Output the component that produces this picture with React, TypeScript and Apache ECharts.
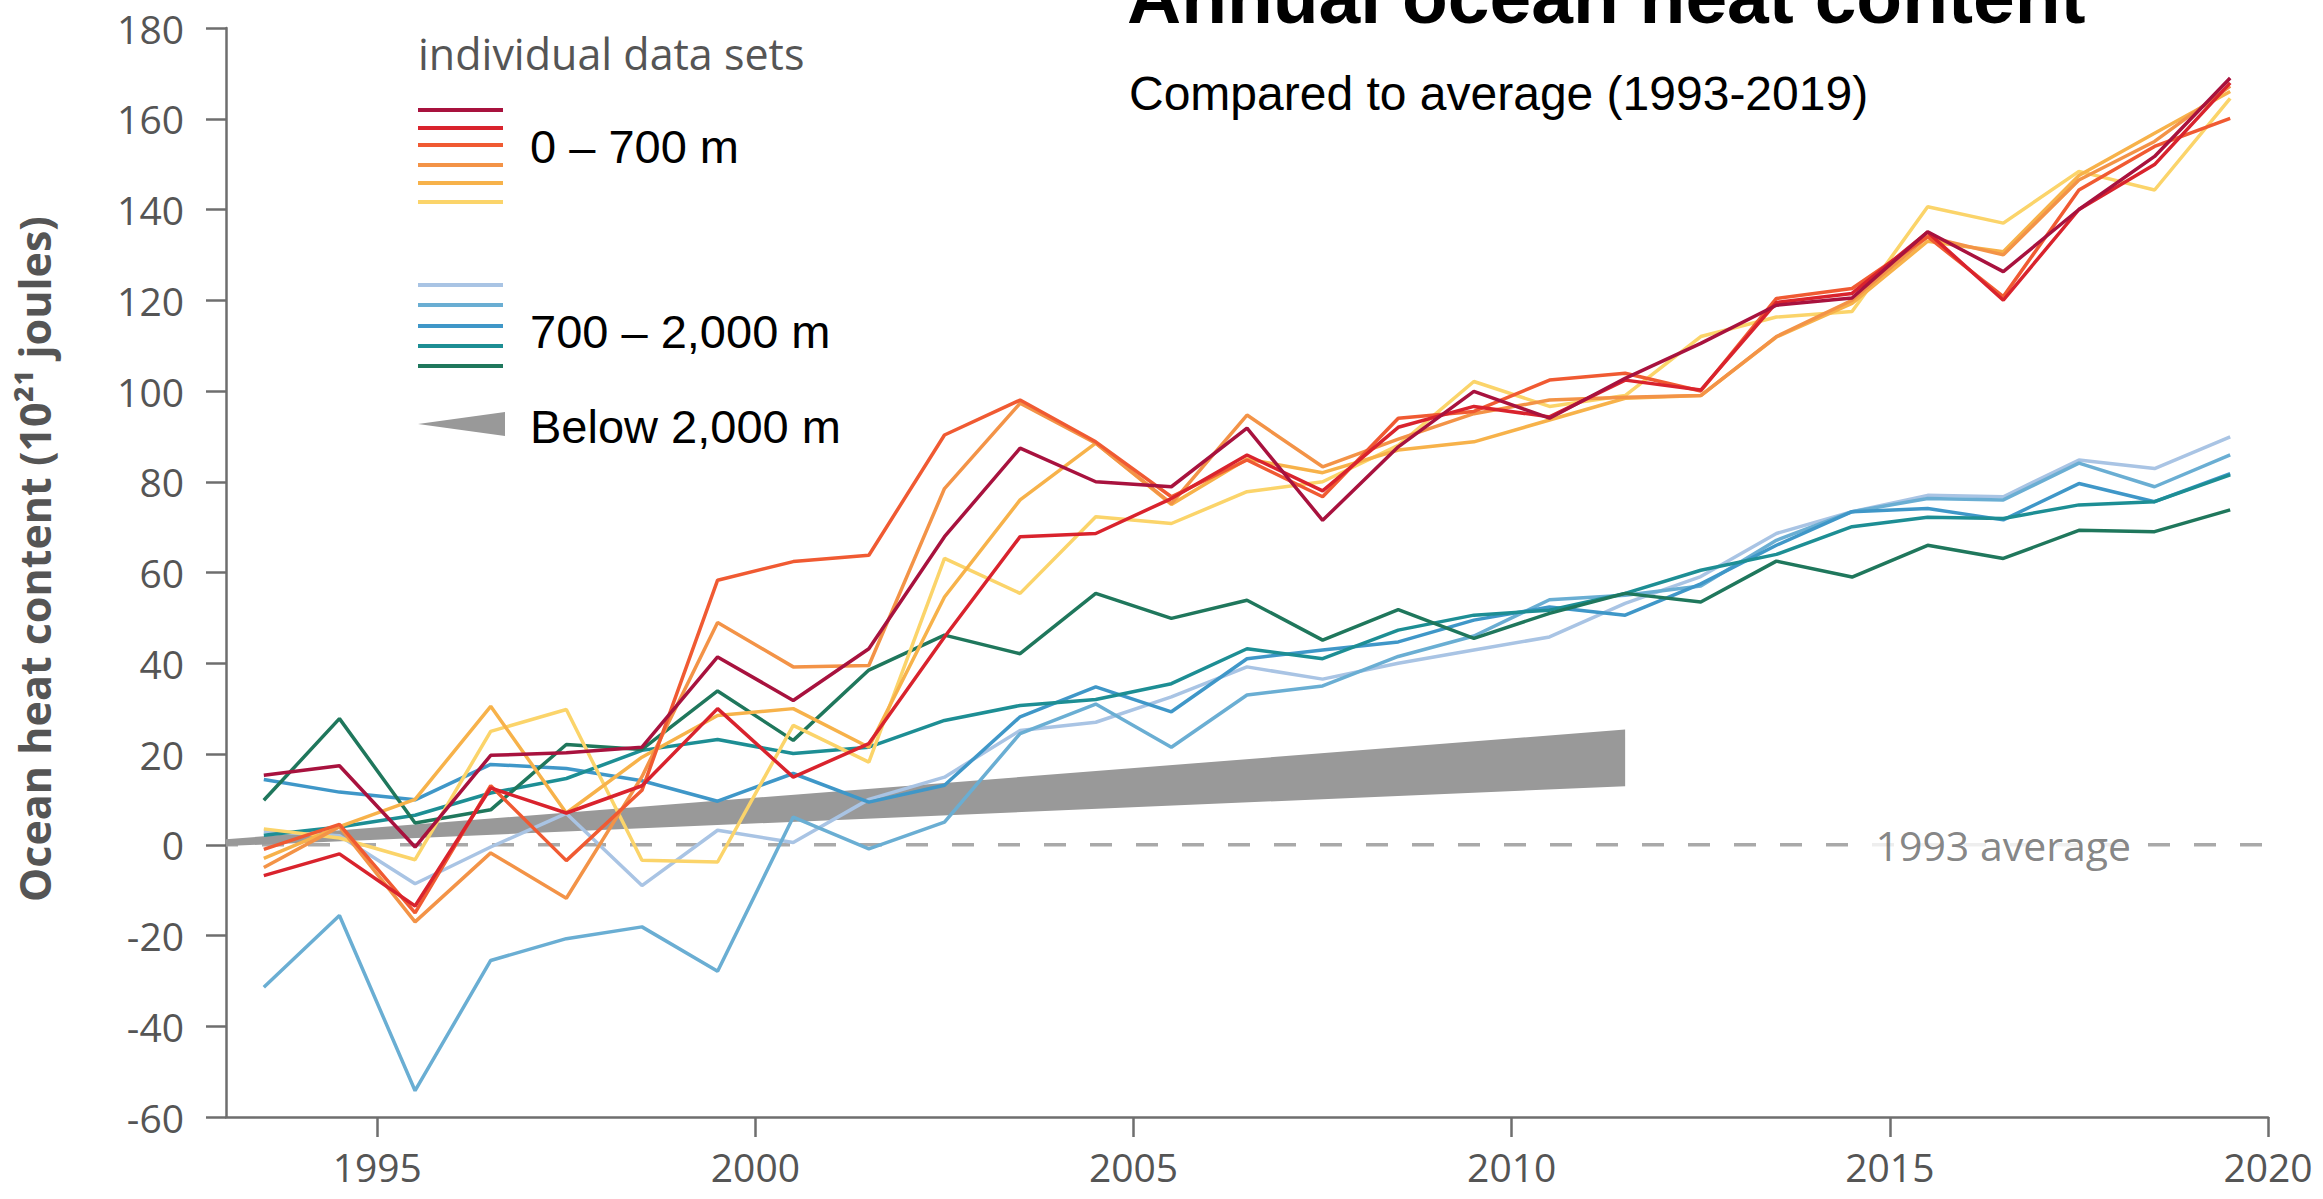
import { useEffect, useRef } from "react";
import * as echarts from "echarts";

// Years of the annual estimates (plotted at mid-year)
const years = [
  1993, 1994, 1995, 1996, 1997, 1998, 1999, 2000, 2001, 2002, 2003, 2004, 2005, 2006,
  2007, 2008, 2009, 2010, 2011, 2012, 2013, 2014, 2015, 2016, 2017, 2018, 2019,
];

// 0 – 700 m data sets (10^21 joules)
const upper1 = [15.3, 17.4, -0.5, 19.7, 20.3, 21.5, 41.4, 31.8, 43.2, 67.9, 87.4, 80.0, 78.9, 91.8, 71.5, 87.7, 99.9, 94.0, 102.8, 110.5, 118.9, 120.5, 135.1, 126.3, 140.0, 151.7, 169.0];
const upper2 = [-6.8, -2.0, -13.5, 12.5, 7.0, 13.0, 30.0, 14.9, 22.3, 45.8, 67.9, 68.6, 76.3, 85.9, 78.0, 92.0, 96.6, 94.3, 102.4, 100.2, 119.5, 121.5, 135.0, 120.0, 140.0, 149.9, 167.9];
const upper3 = [-1.0, 4.5, -15.0, 13.0, -3.5, 12.0, 58.3, 62.4, 63.8, 90.3, 98.0, 88.8, 76.7, 84.8, 76.7, 94.0, 95.5, 102.4, 103.9, 100.0, 120.4, 122.6, 134.0, 120.8, 144.3, 153.9, 160.1];
const upper4 = [-5.0, 4.0, -17.0, -1.8, -11.8, 15.0, 49.0, 39.2, 39.5, 78.5, 97.3, 88.5, 75.2, 94.7, 83.3, 89.4, 95.0, 98.0, 98.6, 99.0, 112.0, 120.0, 134.0, 130.0, 146.5, 155.0, 167.2];
const upper5 = [-3.0, 4.0, 10.0, 30.5, 7.0, 19.3, 28.5, 30.0, 21.5, 54.6, 76.0, 88.5, 75.0, 85.0, 82.0, 87.0, 88.8, 93.6, 98.4, 99.0, 111.9, 119.3, 133.0, 130.7, 147.5, 156.8, 166.0];
const upper6 = [3.5, 1.5, -3.3, 25.0, 29.8, -3.4, -3.8, 26.3, 18.2, 63.1, 55.4, 72.3, 70.8, 77.8, 80.0, 88.0, 102.1, 96.6, 99.0, 112.0, 116.3, 117.5, 140.6, 137.0, 148.4, 144.3, 164.5];

// 700 – 2,000 m data sets (10^21 joules)
const mid1 = [3.0, 2.0, -8.6, -0.5, 6.9, -9.0, 3.2, 0.5, 10.0, 14.9, 25.2, 27.0, 32.6, 39.2, 36.5, 40.0, 42.9, 45.8, 53.2, 59.1, 68.6, 73.4, 77.0, 76.7, 84.8, 82.9, 89.9];
const mid2 = [-31.4, -15.6, -54.2, -25.5, -20.7, -18.1, -27.9, 6.1, -0.9, 5.0, 24.5, 31.0, 21.5, 33.0, 35.0, 41.5, 46.0, 54.0, 55.0, 57.0, 67.1, 73.4, 76.3, 76.0, 84.1, 78.9, 85.9];
const mid3 = [14.4, 11.6, 9.9, 17.7, 16.8, 14.1, 9.6, 15.7, 9.4, 13.1, 28.2, 34.8, 29.3, 41.0, 42.9, 44.7, 49.5, 52.4, 50.6, 57.5, 66.0, 73.4, 74.1, 71.6, 79.6, 75.6, 81.8];
const mid4 = [2.1, 3.9, 6.5, 11.4, 14.6, 20.8, 23.2, 20.1, 21.5, 27.4, 30.7, 32.0, 35.5, 43.2, 41.0, 47.3, 50.6, 51.7, 55.4, 60.5, 64.0, 70.1, 72.2, 71.9, 74.9, 75.6, 81.5];
const mid5 = [9.8, 27.8, 4.8, 7.7, 22.1, 21.0, 33.9, 23.0, 38.5, 46.2, 42.1, 55.4, 49.9, 53.9, 45.1, 51.8, 45.5, 51.0, 55.4, 53.5, 62.5, 59.0, 66.0, 63.1, 69.3, 69.0, 73.8];

// Below 2,000 m: uncertainty wedge (start and end)
const deepYears = [1993, 2011.5];
const deepLower = [-0.3, 12.9];
const deepUpper = [1.2, 25.4];

// 1993 reference line
const baselineYears = [1993, 2020];
const baselineValues = [0, 0];
const averageLabelAt = [2016.5, 0];

const yearTicks = [1995, 2000, 2005, 2010, 2015, 2020];

const upperSets = [upper1, upper2, upper3, upper4, upper5, upper6];
const midSets = [mid1, mid2, mid3, mid4, mid5];
const upperColors = ["#a8123e", "#d9232d", "#f05a32", "#f39347", "#f7b24a", "#fbd46a"];
const midColors = ["#a9c4e4", "#6aaed3", "#3f97c8", "#1d8e94", "#1f775c"];

const GRAY_FONT = '"Open Sans", "DejaVu Sans", sans-serif';
const ARIAL = '"Liberation Sans", Arial, Helvetica, sans-serif';
const AXIS_GRAY = "#6e6e6e";
const LABEL_GRAY = "#555555";

const toPoints = (values: number[]) => values.map((v, i) => [years[i] + 0.5, v]);

function buildOption() {
  const midSeries = midSets.map((vals, i) => ({
    type: "line",
    name: `700 – 2,000 m (${i + 1})`,
    data: toPoints(vals),
    symbol: "none",
    silent: true,
    z: 3,
    lineStyle: { color: midColors[i], width: 3.5 },
  }));
  const upperSeries = upperSets
    .map((vals, i) => ({
      type: "line",
      name: `0 – 700 m (${i + 1})`,
      data: toPoints(vals),
      symbol: "none",
      silent: true,
      z: 4,
      lineStyle: { color: upperColors[i], width: 3.5 },
    }))
    .reverse();

  const legendUpperY = [110, 128, 145, 165, 183, 202];
  const legendMidY = [285, 305, 326, 346, 366];

  const legendLines = [
    ...legendUpperY.map((y, i) => ({
      type: "line",
      shape: { x1: 418, y1: y, x2: 503, y2: y },
      style: { stroke: upperColors[i], lineWidth: 4 },
    })),
    ...legendMidY.map((y, i) => ({
      type: "line",
      shape: { x1: 418, y1: y, x2: 503, y2: y },
      style: { stroke: midColors[i], lineWidth: 4 },
    })),
  ];

  const text = (
    content: string,
    x: number,
    y: number,
    size: number,
    family: string,
    color: string,
    weight: string = "normal",
    extra: any = {}
  ) => ({
    type: "text",
    x,
    y,
    ...extra,
    style: {
      text: content,
      fontSize: size,
      fontFamily: family,
      fontWeight: weight,
      fill: color,
      align: extra.align || "left",
      verticalAlign: "middle",
      textAlign: extra.align || "left",
      textVerticalAlign: "middle",
    },
  });

  return {
    animation: false,
    backgroundColor: "#ffffff",
    grid: { left: 226, right: 55, top: 28, bottom: 82, containLabel: false, outerBoundsMode: "none" },
    xAxis: {
      type: "value",
      min: 1993,
      max: 2020,
      axisLine: { show: true, onZero: false, lineStyle: { color: AXIS_GRAY, width: 2.5 } },
      axisTick: { show: true, length: 20, customValues: yearTicks, lineStyle: { color: AXIS_GRAY, width: 2.5 } },
      axisLabel: {
        customValues: yearTicks,
        margin: 29,
        fontSize: 39,
        lineHeight: 40,
        fontFamily: GRAY_FONT,
        color: LABEL_GRAY,
        formatter: (v: number) => String(v),
      },
      splitLine: { show: false },
    },
    yAxis: {
      type: "value",
      min: -60,
      max: 180,
      interval: 20,
      axisLine: { show: true, lineStyle: { color: AXIS_GRAY, width: 2.5 } },
      axisTick: { show: true, length: 20, lineStyle: { color: AXIS_GRAY, width: 2.5 } },
      axisLabel: { margin: 42, fontSize: 39, fontFamily: GRAY_FONT, color: LABEL_GRAY },
      splitLine: { show: false },
    },
    series: [
      {
        type: "line",
        name: "1993 average",
        data: baselineYears.map((y, i) => [y, baselineValues[i]]),
        symbol: "none",
        silent: true,
        z: 1,
        lineStyle: { color: "#a9a9a9", width: 3.5, type: [22, 24], dashOffset: 10 },
      },
      {
        type: "custom",
        name: "Below 2,000 m",
        silent: true,
        z: 2,
        data: [[deepYears[0], deepLower[0], deepUpper[0], deepYears[1], deepLower[1], deepUpper[1]]],
        renderItem: (_params: any, api: any) => {
          const pts = [
            api.coord([api.value(0), api.value(2)]),
            api.coord([api.value(3), api.value(5)]),
            api.coord([api.value(3), api.value(4)]),
            api.coord([api.value(0), api.value(1)]),
          ];
          return { type: "polygon", shape: { points: pts }, style: { fill: "#999999" } };
        },
      },
      ...midSeries,
      ...upperSeries,
      {
        type: "scatter",
        name: "average label",
        data: [averageLabelAt],
        symbolSize: 0,
        silent: true,
        z: 6,
        label: {
          show: true,
          position: "inside",
          formatter: "1993 average",
          fontSize: 41,
          fontFamily: GRAY_FONT,
          color: "#666666",
          backgroundColor: "#ffffff",
          padding: [2, 6],
        },
      },
    ],
    graphic: [
      text("Annual ocean heat content", 1127, -2.7, 75, ARIAL, "#000000", "bold"),
      text("Compared to average (1993-2019)", 1129, 93.4, 48, ARIAL, "#000000"),
      text("individual data sets", 418, 53, 43, GRAY_FONT, LABEL_GRAY),
      ...legendLines,
      text("0 – 700 m", 530, 146.7, 47, ARIAL, "#000000"),
      text("700 – 2,000 m", 530, 331.7, 47, ARIAL, "#000000"),
      {
        type: "polygon",
        shape: { points: [[418, 424], [505, 412], [505, 436]] },
        style: { fill: "#999999" },
      },
      text("Below 2,000 m", 530, 426.7, 47, ARIAL, "#000000"),
      text("Ocean heat content (10²¹ joules)", 34, 559, 43, GRAY_FONT, LABEL_GRAY, "bold", {
        rotation: Math.PI / 2,
        align: "center",
      }),
    ],
  };
}

export default function App() {
  const ref = useRef<HTMLDivElement>(null);
  useEffect(() => {
    if (!ref.current) return;
    const chart = echarts.init(ref.current, undefined, { renderer: "svg" });
    chart.setOption(buildOption() as any);
    return () => chart.dispose();
  }, []);
  return (
    <div
      ref={ref}
      style={{ position: "absolute", left: 0, top: 0, width: 2323, height: 1199, background: "#ffffff" }}
    />
  );
}
